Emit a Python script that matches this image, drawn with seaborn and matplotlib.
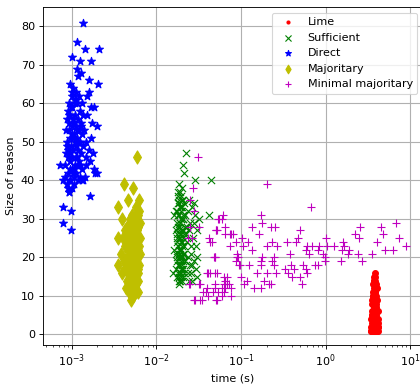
import matplotlib
matplotlib.use("Agg")
import matplotlib.pyplot as plt
import seaborn as sns
import pandas as pd

# ---------------- data (time in seconds, size of reason) ----------------
lime_time = [3.78, 3.72, 3.85, 3.68, 3.80, 3.74, 3.88, 3.65, 3.79, 3.70, 3.92, 3.83, 3.60, 3.76,
             3.95, 3.67, 3.86, 3.73, 3.55, 3.90, 3.81, 3.63, 3.98, 3.71, 3.87, 3.58, 3.77, 4.02,
             3.66, 3.93, 3.52, 3.82, 3.70, 4.06, 3.60, 3.89, 3.48, 3.75, 4.10, 3.64, 3.97, 3.55,
             3.84, 3.45, 4.15, 3.70, 3.92, 3.58, 4.00, 3.50, 3.80, 3.68, 3.84, 3.75, 3.95, 3.62,
             4.05, 3.78, 3.66, 3.86, 3.74, 3.62, 3.90, 3.53, 4.08, 3.72, 3.88, 3.96, 3.57, 3.79, 3.69,
             3.42, 4.20, 3.46, 4.18, 3.50, 4.12, 3.47, 4.16, 3.55, 4.05, 3.60, 4.00]
lime_size = [16, 15, 15, 14, 14, 14, 13, 13, 12, 12, 12, 11, 11, 10,
             10, 10, 9, 9, 9, 8, 8, 8, 7, 7, 7, 6, 6, 6,
             5, 5, 5, 4, 4, 4, 4, 3, 3, 3, 2, 2, 2, 1,
             1, 1, 1, 1, 1, 2, 3, 4, 6, 8, 11, 13, 1, 1,
             1, 3, 5, 7, 11, 9, 6, 2, 4, 2, 2, 4, 5, 10, 14,
             2, 2, 4, 4, 6, 6, 1, 3, 8, 9, 10, 12]

sufficient_time = [0.0223, 0.0203, 0.0209, 0.0183, 0.0283, 0.0442, 0.0413, 0.0183, 0.0275, 0.0315,
                   0.0300, 0.0257,
                   0.0195, 0.0186, 0.0205, 0.0178, 0.0212, 0.0192, 0.0200, 0.0170, 0.0218, 0.0184,
                   0.0197, 0.0208, 0.0175, 0.0190, 0.0215, 0.0181, 0.0202, 0.0168, 0.0194, 0.0221,
                   0.0187, 0.0206, 0.0177, 0.0199, 0.0213, 0.0183, 0.0193, 0.0172, 0.0210, 0.0188,
                   0.0201, 0.0176, 0.0217, 0.0191, 0.0181, 0.0204, 0.0169, 0.0195, 0.0211, 0.0185,
                   0.0174, 0.0198, 0.0188,
                   0.0182, 0.0199, 0.0188, 0.0176, 0.0207, 0.0193, 0.0183, 0.0203, 0.0190, 0.0180,
                   0.0196, 0.0206, 0.0186, 0.0198, 0.0179, 0.0207, 0.0193, 0.0186, 0.0200, 0.0189,
                   0.0194, 0.0160, 0.0162, 0.0158, 0.0190, 0.0198, 0.0180,
                   0.0240, 0.0262, 0.0235, 0.0285, 0.0250, 0.0305, 0.0245, 0.0270, 0.0232, 0.0290,
                   0.0255, 0.0238, 0.0275, 0.0248, 0.0295, 0.0233, 0.0265, 0.0245, 0.0280, 0.0255,
                   0.0230, 0.0300, 0.0265,
                   0.0187, 0.0197, 0.0178, 0.0204, 0.0191, 0.0184, 0.0199, 0.0175, 0.0210, 0.0189,
                   0.0196, 0.0181, 0.0202, 0.0192, 0.0186, 0.0200, 0.0177, 0.0208, 0.0194, 0.0183,
                   0.0201, 0.0189, 0.0173, 0.0196, 0.0185]
sufficient_size = [47, 44, 42, 39, 40, 40, 31, 13, 34, 30,
                   15, 16,
                   36, 35, 35, 34, 34, 33, 33, 32, 31, 31,
                   30, 30, 29, 29, 28, 28, 27, 27, 26, 26,
                   25, 25, 24, 24, 23, 22, 22, 21, 21, 20,
                   20, 19, 19, 18, 18, 17, 17, 16, 16, 15,
                   15, 14, 14,
                   36, 35, 33, 32, 31, 30, 28, 27, 26, 23,
                   22, 21, 20, 18, 16, 15, 32, 27, 24, 21,
                   17, 31, 22, 16, 37, 38, 37,
                   35, 33, 32, 31, 29, 27, 27, 25, 24, 23,
                   21, 20, 19, 18, 17, 16, 14, 14, 29, 23,
                   28, 20, 18,
                   34, 33, 31, 30, 29, 28, 27, 26, 26, 25,
                   24, 23, 23, 22, 21, 20, 20, 19, 19, 18,
                   17, 16, 25, 15, 14]

direct_time = [0.00134, 0.00116, 0.00141, 0.00207, 0.00100, 0.00167, 0.00124, 0.00114, 0.00127,
               0.00118, 0.00158, 0.00203, 0.00095, 0.00158, 0.00170, 0.00182, 0.00171, 0.00196,
               0.00170, 0.00160, 0.00176, 0.00163, 0.00182, 0.00196, 0.00072, 0.00143, 0.00134,
               0.00079, 0.00095, 0.00164, 0.00092, 0.00079, 0.00098, 0.00078, 0.00097,
               0.00104, 0.00112, 0.00099, 0.00120, 0.00108, 0.00093, 0.00130, 0.00115,
               0.00101, 0.00089, 0.00124, 0.00110, 0.00096, 0.00135, 0.00118, 0.00087, 0.00105,
               0.00128, 0.00093, 0.00113, 0.00099, 0.00140, 0.00121, 0.00085, 0.00107, 0.00131,
               0.00095, 0.00116, 0.00102, 0.00088, 0.00125, 0.00110, 0.00097, 0.00137, 0.00119,
               0.00091, 0.00104, 0.00128, 0.00086, 0.00113, 0.00100, 0.00145, 0.00122, 0.00094,
               0.00108, 0.00082, 0.00117, 0.00099, 0.00133, 0.00089, 0.00112, 0.00103, 0.00126,
               0.00084, 0.00095, 0.00118, 0.00087, 0.00106, 0.00100, 0.00090,
               0.00101, 0.00097, 0.00114, 0.00090, 0.00106, 0.00092, 0.00124, 0.00108, 0.00096,
               0.00119, 0.00103, 0.00111, 0.00087, 0.00129, 0.00094, 0.00113, 0.00100, 0.00116,
               0.00092, 0.00105, 0.00148, 0.00152, 0.00146, 0.00150, 0.00093, 0.00130, 0.00190]
direct_size = [81, 76, 74, 74, 72, 71, 71, 69, 68,
               67, 66, 65, 65, 63, 59, 59, 55, 54,
               51, 48, 47, 45, 43, 42, 44, 41, 40,
               40, 40, 36, 37, 33, 32, 29, 27,
               64, 63, 62, 62, 61, 60, 60, 60,
               59, 58, 58, 57, 57, 57, 56, 56, 55,
               55, 55, 54, 54, 53, 53, 53, 52, 52,
               51, 51, 51, 50, 50, 50, 49, 49, 48,
               48, 48, 47, 47, 46, 46, 46, 45, 45,
               44, 44, 44, 43, 43, 42, 42, 42, 41,
               41, 40, 40, 39, 39, 38, 38,
               63, 59, 53, 46, 43, 53, 44, 60, 47,
               50, 56, 49, 49, 54, 43, 61, 52, 46,
               57, 41, 50, 57, 44, 62, 37, 40, 42]

majoritary_time = [0.00585, 0.00417, 0.00534, 0.00457, 0.00623, 0.00355, 0.00395, 0.00355, 0.00355,
                   0.00500,
                   0.0058, 0.0062, 0.0052, 0.0060, 0.0048, 0.0055,
                   0.0063, 0.0050, 0.0057, 0.0045, 0.0061, 0.0053, 0.0042, 0.0059, 0.0048,
                   0.0055, 0.0064, 0.0040, 0.0051, 0.0058, 0.0046, 0.0062, 0.0054, 0.0043, 0.0060,
                   0.0049, 0.0056, 0.0038, 0.0063, 0.0052, 0.0045, 0.0059, 0.0041, 0.0055, 0.0048,
                   0.0062,
                   0.0051, 0.0044, 0.0058, 0.0054, 0.0047, 0.0061, 0.0050, 0.0056, 0.0045, 0.0059,
                   0.0052, 0.0048, 0.0057, 0.0044, 0.0054, 0.0050, 0.0058, 0.0047, 0.0053, 0.0051,
                   0.0057, 0.0053, 0.0049, 0.0057, 0.0053, 0.0050, 0.0061, 0.0046, 0.0055, 0.0060,
                   0.0050, 0.0056, 0.0042, 0.0039, 0.0054, 0.0059, 0.0047, 0.0056, 0.0052, 0.0060,
                   0.0055, 0.0051, 0.0058, 0.0053, 0.0049, 0.0056, 0.0052, 0.0059, 0.0054, 0.0050,
                   0.0057, 0.0053, 0.0048, 0.0055, 0.0060, 0.0052, 0.0056, 0.0051, 0.0054, 0.0058]
majoritary_size = [46, 39, 38, 35, 35, 33, 30, 25, 18,
                   9,
                   33, 32, 31, 31, 30, 30,
                   29, 29, 29, 28, 28, 27, 27, 27, 26,
                   26, 25, 25, 25, 24, 24, 23, 23, 23, 22,
                   22, 21, 21, 21, 20, 20, 20, 19, 19, 18,
                   18,
                   18, 17, 17, 16, 16, 16, 15, 15, 14, 14,
                   14, 13, 13, 12, 12, 12, 11, 11, 10, 10,
                   31, 28, 24, 22, 19, 26, 21, 25, 16, 17,
                   22, 27, 17, 16, 26, 24, 19, 20, 13, 11,
                   29, 27, 26, 24, 23, 23, 21, 20, 19, 18,
                   17, 16, 15, 15, 14, 13, 12, 12, 11, 21]

minimal_time = [0.0306, 0.200, 0.027, 0.025, 0.665, 0.170, 0.061, 0.0544, 0.177, 0.135, 0.223,
                0.255, 2.55, 4.5, 6.8, 0.051, 0.065, 0.495, 0.065, 0.075, 0.162, 2.2, 4.8, 0.042,
                0.103, 0.47, 1.0, 2.5, 7.4, 0.045, 0.086, 0.121, 0.235, 0.35, 0.44, 1.6, 1.66,
                4.0, 0.073, 0.106, 0.204, 0.266, 0.60, 0.69, 0.83, 1.25, 1.88, 5.0, 6.2, 8.8,
                0.133, 0.58, 0.80, 1.03, 1.55, 0.090, 0.378, 0.64, 0.92, 1.84, 2.42, 3.5, 0.093,
                0.048, 0.177, 0.244, 0.98, 0.088, 0.170, 0.235, 2.65, 0.094, 0.123, 0.385, 0.54,
                0.80, 0.98, 0.170, 0.244, 0.334, 0.42, 0.58, 0.75, 1.5, 0.040, 0.0495, 0.068,
                0.100, 0.155, 0.204, 0.26, 0.358, 0.40, 0.495, 0.60, 0.116, 0.186, 0.215, 0.025,
                0.0325, 0.0495, 0.062, 0.071, 0.109, 0.144, 0.170, 0.223, 0.53, 0.0495, 0.065,
                0.038, 0.047, 0.062, 0.075, 0.0286, 0.0345, 0.052, 0.041, 0.0315, 0.0274, 0.025,
                0.0238, 0.0264, 0.0535, 0.0506, 0.043, 0.0487, 0.041, 0.0243, 0.032, 0.065, 0.060,
                0.052, 0.073, 0.081, 0.090, 0.0495, 0.096, 0.043, 0.052, 0.062, 0.068, 0.060,
                0.075, 0.054, 0.035, 0.040, 0.028, 0.033, 0.051, 0.060]
minimal_size = [46, 39, 38, 35, 33, 31, 31, 30, 29, 28, 28,
                28, 28, 28, 29, 27, 28, 27, 26, 26, 26, 26, 26, 25,
                25, 25, 25, 25, 25, 24, 24, 24, 24, 24, 24, 24, 23,
                24, 23, 23, 23, 23, 23, 23, 23, 23, 22, 22, 22, 23,
                22, 22, 22, 23, 22, 21, 21, 21, 21, 21, 21, 21, 20,
                20, 20, 20, 20, 19, 19, 19, 19, 18, 18, 18, 18,
                18, 19, 18, 18, 17, 17, 17, 18, 19, 16, 16, 15,
                15, 16, 16, 16, 16, 15, 15, 16, 14, 14, 13, 13,
                13, 13, 13, 13, 13, 12, 12, 13, 13, 12, 12,
                11, 11, 11, 10, 9, 9, 9, 10, 28, 32, 28,
                25, 25, 30, 27, 24, 20, 16, 13, 13, 14, 30,
                27, 26, 26, 20, 20, 18, 16, 16, 15, 13, 12,
                12, 11, 11, 12, 9, 9, 9, 10]

series = [
    ("Lime", lime_time, lime_size, ".", "r", 110),
    ("Sufficient", sufficient_time, sufficient_size, "x", "g", 42),
    ("Direct", direct_time, direct_size, "*", "b", 55),
    ("Majoritary", majoritary_time, majoritary_size, "d", "y", 70),
    ("Minimal majoritary", minimal_time, minimal_size, "+", "m", 50),
]

# ---------------- figure ----------------
fig = plt.figure(figsize=(5.25, 4.8), dpi=80)
ax = fig.add_axes([42.7 / 420, 39 / 384, (423 - 42.7) / 420, (345 - 7.1) / 384])

for name, t, s, mk, col, msize in series:
    df = pd.DataFrame({"time": t, "size": s})
    filled = mk in (".", "*", "d")
    kw = dict(edgecolor=col, linewidth=1.0) if filled else dict(linewidth=1.0)
    sns.scatterplot(data=df, x="time", y="size", marker=mk, color=col, s=msize,
                    ax=ax, label=name, zorder=2, **kw)

ax.set_xscale("log")
ax.set_xlim(10 ** -3.345, 10 ** 1.15)
ax.set_ylim(-2.75, 85)
ax.set_yticks([0, 10, 20, 30, 40, 50, 60, 70, 80])
ax.grid(True, which="major", color="#b0b0b0", linewidth=1.0, zorder=0)
ax.set_axisbelow(True)
ax.set_xlabel("time (s)")
ax.set_ylabel("Size of reason")
leg = ax.legend(loc="upper right")
for h in leg.legend_handles:
    h.set_sizes([30])

fig.savefig("out.png", dpi=80)
